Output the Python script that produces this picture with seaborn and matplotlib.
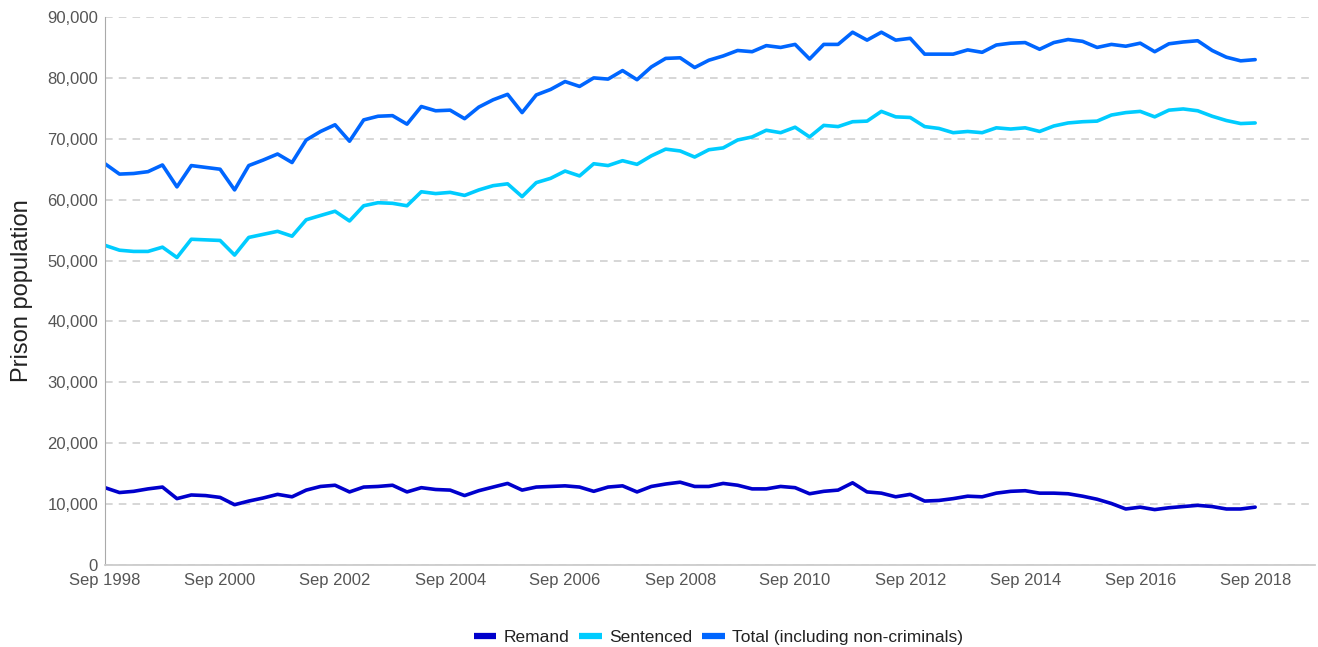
import pandas as pd
import numpy as np
import matplotlib.pyplot as plt
import matplotlib.ticker as mtick
import seaborn as sns

# quarterly, Sep 1998 -> Sep 2018
quarters = pd.date_range('1998-09-30', '2018-09-30', freq='QE')

remand = [12700, 11900, 12100, 12500, 12800, 10900, 11500, 11400, 11100, 9900,
          10500, 11000, 11600, 11200, 12300, 12900, 13100, 12000, 12800, 12900,
          13100, 12000, 12700, 12400, 12300, 11400, 12200, 12800, 13400, 12300,
          12800, 12900, 13000, 12800, 12100, 12800, 13000, 12000, 12900, 13300,
          13600, 12900, 12900, 13400, 13100, 12500, 12500, 12900, 12700, 11700,
          12100, 12300, 13500, 12000, 11800, 11200, 11600, 10500, 10600, 10900,
          11300, 11200, 11800, 12100, 12200, 11800, 11800, 11700, 11300, 10800,
          10100, 9200, 9500, 9100, 9400, 9600, 9800, 9600, 9200, 9200,
          9500]

sentenced = [52500, 51700, 51500, 51500, 52200, 50500, 53500, 53400, 53300, 50900,
             53800, 54300, 54800, 54000, 56700, 57400, 58100, 56500, 59000, 59500,
             59400, 59000, 61300, 61000, 61200, 60700, 61600, 62300, 62600, 60500,
             62800, 63500, 64700, 63900, 65900, 65600, 66400, 65800, 67200, 68300,
             68000, 67000, 68200, 68500, 69800, 70300, 71400, 71000, 71900, 70300,
             72200, 72000, 72800, 72900, 74500, 73600, 73500, 72000, 71700, 71000,
             71200, 71000, 71800, 71600, 71800, 71200, 72100, 72600, 72800, 72900,
             73900, 74300, 74500, 73600, 74700, 74900, 74600, 73700, 73000, 72500,
             72600]

total = [65900, 64200, 64300, 64600, 65700, 62100, 65600, 65300, 65000, 61600,
         65600, 66500, 67500, 66100, 69800, 71200, 72300, 69600, 73100, 73700,
         73800, 72400, 75300, 74600, 74700, 73300, 75200, 76400, 77300, 74300,
         77200, 78100, 79400, 78600, 80000, 79800, 81200, 79700, 81800, 83200,
         83300, 81700, 82900, 83600, 84500, 84300, 85300, 85000, 85500, 83100,
         85500, 85500, 87500, 86200, 87500, 86200, 86500, 83900, 83900, 83900,
         84600, 84200, 85400, 85700, 85800, 84700, 85800, 86300, 86000, 85000,
         85500, 85200, 85700, 84300, 85600, 85900, 86100, 84500, 83400, 82800,
         83000]

series_names = ['Remand', 'Sentenced', 'Total (including non-criminals)']
colors = ['#0000cc', '#00ccff', '#0066ff']

df = pd.DataFrame({'quarter': quarters, series_names[0]: remand,
                   series_names[1]: sentenced, series_names[2]: total})
dfl = pd.melt(df, id_vars='quarter', var_name='series', value_name='population')

sns.set_style('white')
plt.rcParams['font.family'] = ['Liberation Sans', 'DejaVu Sans']

fig = plt.figure(figsize=(13.18, 6.47), dpi=100)
ax = fig.add_axes([105/1318, 1-565/647, 1210/1318, 548/647])

sns.lineplot(data=dfl, x='quarter', y='population', hue='series',
             hue_order=series_names, palette=colors, linewidth=2.6, ax=ax,
             legend=True)

ax.set_ylim(0, 90000)
ax.set_xlim(pd.Timestamp('1998-09-30'), pd.Timestamp('2019-10-15'))
ax.yaxis.set_major_locator(mtick.MultipleLocator(10000))
ax.yaxis.set_major_formatter(mtick.FuncFormatter(lambda v, p: '{:,.0f}'.format(v)))

years = range(1998, 2019, 2)
ax.set_xticks([pd.Timestamp('{}-09-30'.format(y)) for y in years])
ax.set_xticklabels(['Sep {}'.format(y) for y in years])

ax.yaxis.grid(True, color='#cccccc', linestyle=(0, (5, 4)), linewidth=1.1)
ax.set_axisbelow(True)
for s in ['top', 'right']:
    ax.spines[s].set_visible(False)
ax.spines['left'].set_color('#aaaaaa')
ax.spines['bottom'].set_color('#cccccc')
ax.spines['bottom'].set_linewidth(1.3)
ax.tick_params(axis='both', colors='#555555', labelsize=12, length=4, width=1,
               direction='out', pad=2)
ax.tick_params(axis='y', length=3)

ax.set_xlabel('')
ax.set_ylabel('Prison population', fontsize=17, color='#222222', labelpad=10)

h, l = ax.get_legend_handles_labels()
ax.legend_.remove()
leg = fig.legend(h, l, loc='lower center', bbox_to_anchor=(0.545, -0.021), ncol=3,
                 frameon=False, fontsize=12.5, handlelength=1.3,
                 columnspacing=0.6, handletextpad=0.4)
for line in leg.get_lines():
    line.set_linewidth(4.5)
    line.set_solid_capstyle('butt')
for t in leg.get_texts():
    t.set_color('#222222')

fig.savefig('out.png', dpi=100)
